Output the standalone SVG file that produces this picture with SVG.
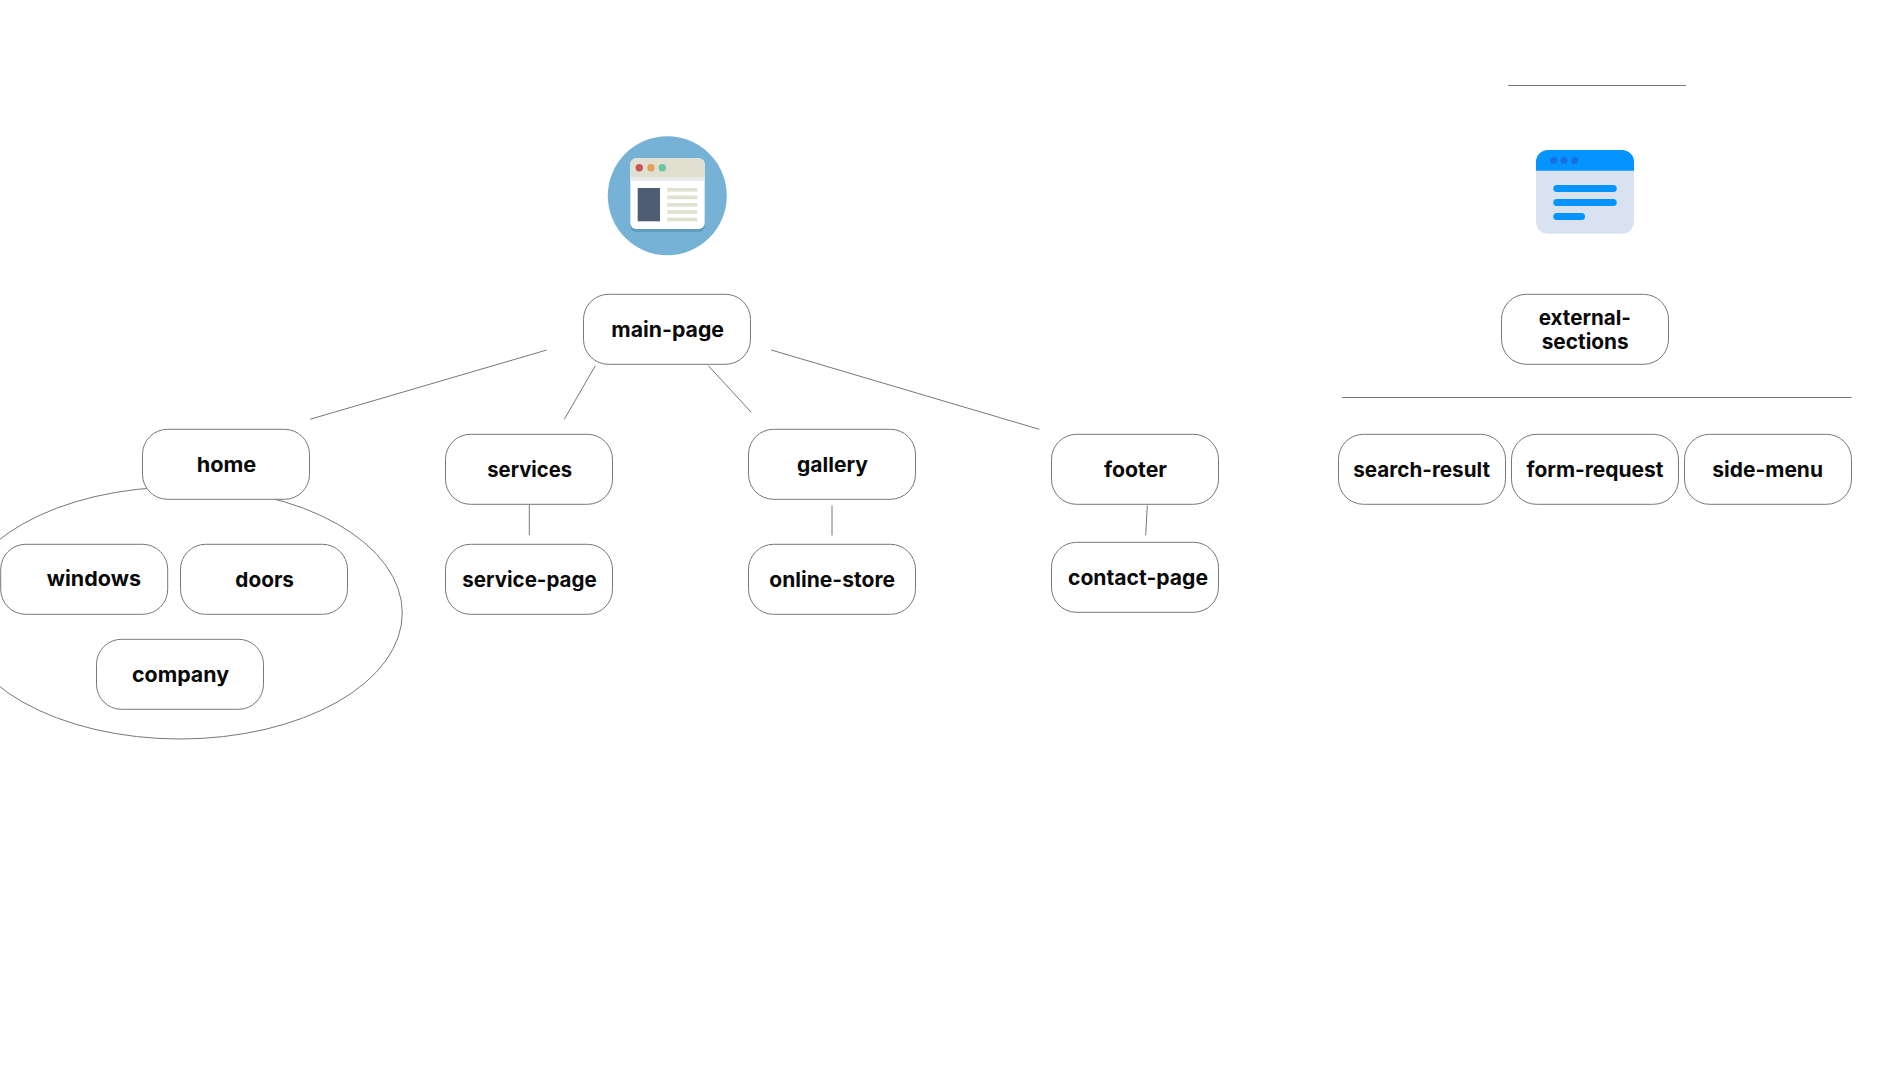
<svg xmlns="http://www.w3.org/2000/svg" width="1900" height="1071" viewBox="0 0 1900 1071">
<style>
.n{fill:#fff;stroke:#777;stroke-width:1}
.c line,.c ellipse{stroke:#777;stroke-width:1;fill:none}
text{font-family:"Inter","Liberation Sans",sans-serif;font-weight:700;font-size:20.5px;fill:#0a0a0a;text-anchor:start}
</style>
<rect width="1900" height="1071" fill="#fff"/>
<g id="connectors" class="c">
<ellipse cx="180" cy="613" rx="222.3" ry="126"/>
<line x1="546.7" y1="350" x2="310" y2="419.3"/>
<line x1="595.3" y1="365.7" x2="564.3" y2="419.3"/>
<line x1="708.3" y1="365.7" x2="751.3" y2="412.3"/>
<line x1="771.3" y1="350" x2="1039.3" y2="429.3"/>
<line x1="529.3" y1="505" x2="529.3" y2="535"/>
<line x1="832" y1="505.5" x2="832" y2="535.5"/>
<line x1="1147.3" y1="505.5" x2="1145.7" y2="535.3"/>
<line x1="1508" y1="85.5" x2="1686" y2="85.5"/>
<line x1="1342" y1="397.5" x2="1851.7" y2="397.5"/>
</g>
<g id="icon-main">
<circle cx="667.3" cy="195.8" r="59.5" fill="#76b2d6"/>
<rect x="630.3" y="161" width="74.4" height="71" rx="6" fill="#5f9cbd"/>
<rect x="630.3" y="158.3" width="74.4" height="70.7" rx="6" fill="#fff"/>
<path d="M630.3 177v-12.7a6 6 0 0 1 6-6h62.4a6 6 0 0 1 6 6V177z" fill="#dfe0cf"/>
<rect x="630.3" y="177" width="74.4" height="4" fill="#e9e9e9"/>
<circle cx="639.3" cy="167.7" r="3.7" fill="#c9555a"/>
<circle cx="651" cy="167.7" r="3.7" fill="#e89d5a"/>
<circle cx="662.3" cy="167.7" r="3.7" fill="#6dc5a9"/>
<rect x="637.7" y="188" width="22.3" height="33.3" fill="#4e5d73"/>
<g fill="#e0e2cf">
<rect x="667.3" y="188" width="30" height="3.7"/>
<rect x="667.3" y="195.5" width="30" height="3.7"/>
<rect x="667.3" y="203" width="30" height="3.7"/>
<rect x="667.3" y="210.2" width="30" height="3.7"/>
<rect x="667.3" y="217.7" width="30" height="3.7"/>
</g>
</g>
<g id="icon-external">
<rect x="1536" y="150" width="98" height="83.7" rx="12" fill="#d8e2f1"/>
<path d="M1536 170.7V162a12 12 0 0 1 12-12h74a12 12 0 0 1 12 12v8.7z" fill="#0593ff"/>
<g fill="#1a6fe0"><circle cx="1553.7" cy="160.5" r="3.5"/><circle cx="1564" cy="160.5" r="3.5"/><circle cx="1574.7" cy="160.5" r="3.5"/></g>
<g fill="#0593ff"><rect x="1553.3" y="185" width="63.4" height="7" rx="3.5"/><rect x="1553.3" y="199" width="63.4" height="7" rx="3.5"/><rect x="1553.3" y="213" width="31.7" height="7" rx="3.5"/></g>
</g>
<g id="main-page"><rect class="n" x="583.5" y="294.3" width="167" height="70" rx="25"/><text x="611.3" y="337" textLength="112.7" lengthAdjust="spacingAndGlyphs">main-page</text></g>
<g id="external-sections"><rect class="n" x="1501.5" y="294.3" width="167" height="70" rx="25"/><text x="1538.7" y="325" textLength="92.3" lengthAdjust="spacingAndGlyphs">external-</text><text x="1541.7" y="349" textLength="87" lengthAdjust="spacingAndGlyphs">sections</text></g>
<g id="home"><rect class="n" x="142.5" y="429.3" width="167" height="70" rx="25"/><text x="196.7" y="472" textLength="59.6" lengthAdjust="spacingAndGlyphs">home</text></g>
<g id="services"><rect class="n" x="445.5" y="434.3" width="167" height="70" rx="25"/><text x="487.3" y="477" textLength="84.7" lengthAdjust="spacingAndGlyphs">services</text></g>
<g id="gallery"><rect class="n" x="748.5" y="429.3" width="167" height="70" rx="25"/><text x="797" y="472.3" textLength="71" lengthAdjust="spacingAndGlyphs">gallery</text></g>
<g id="footer"><rect class="n" x="1051.5" y="434.3" width="167" height="70" rx="25"/><text x="1104" y="477" textLength="63" lengthAdjust="spacingAndGlyphs">footer</text></g>
<g id="windows"><rect class="n" x="0.7" y="544.3" width="167" height="70" rx="25"/><text x="46.7" y="586" textLength="94.3" lengthAdjust="spacingAndGlyphs">windows</text></g>
<g id="doors"><rect class="n" x="180.5" y="544.3" width="167" height="70" rx="25"/><text x="235.3" y="587" textLength="58.7" lengthAdjust="spacingAndGlyphs">doors</text></g>
<g id="company"><rect class="n" x="96.5" y="639.3" width="167" height="70" rx="25"/><text x="132" y="682" textLength="97" lengthAdjust="spacingAndGlyphs">company</text></g>
<g id="service-page"><rect class="n" x="445.5" y="544.3" width="167" height="70" rx="25"/><text x="462.3" y="587" textLength="134.4" lengthAdjust="spacingAndGlyphs">service-page</text></g>
<g id="online-store"><rect class="n" x="748.5" y="544.3" width="167" height="70" rx="25"/><text x="769.3" y="587" textLength="125.7" lengthAdjust="spacingAndGlyphs">online-store</text></g>
<g id="contact-page"><rect class="n" x="1051.5" y="542.3" width="167" height="70" rx="25"/><text x="1068" y="585" textLength="140" lengthAdjust="spacingAndGlyphs">contact-page</text></g>
<g id="search-result"><rect class="n" x="1338.5" y="434.3" width="167" height="70" rx="25"/><text x="1353.3" y="477" textLength="136.7" lengthAdjust="spacingAndGlyphs">search-result</text></g>
<g id="form-request"><rect class="n" x="1511.5" y="434.3" width="167" height="70" rx="25"/><text x="1526.5" y="477" textLength="137" lengthAdjust="spacingAndGlyphs">form-request</text></g>
<g id="side-menu"><rect class="n" x="1684.5" y="434.3" width="167" height="70" rx="25"/><text x="1712.3" y="477" textLength="110.7" lengthAdjust="spacingAndGlyphs">side-menu</text></g>
</svg>
